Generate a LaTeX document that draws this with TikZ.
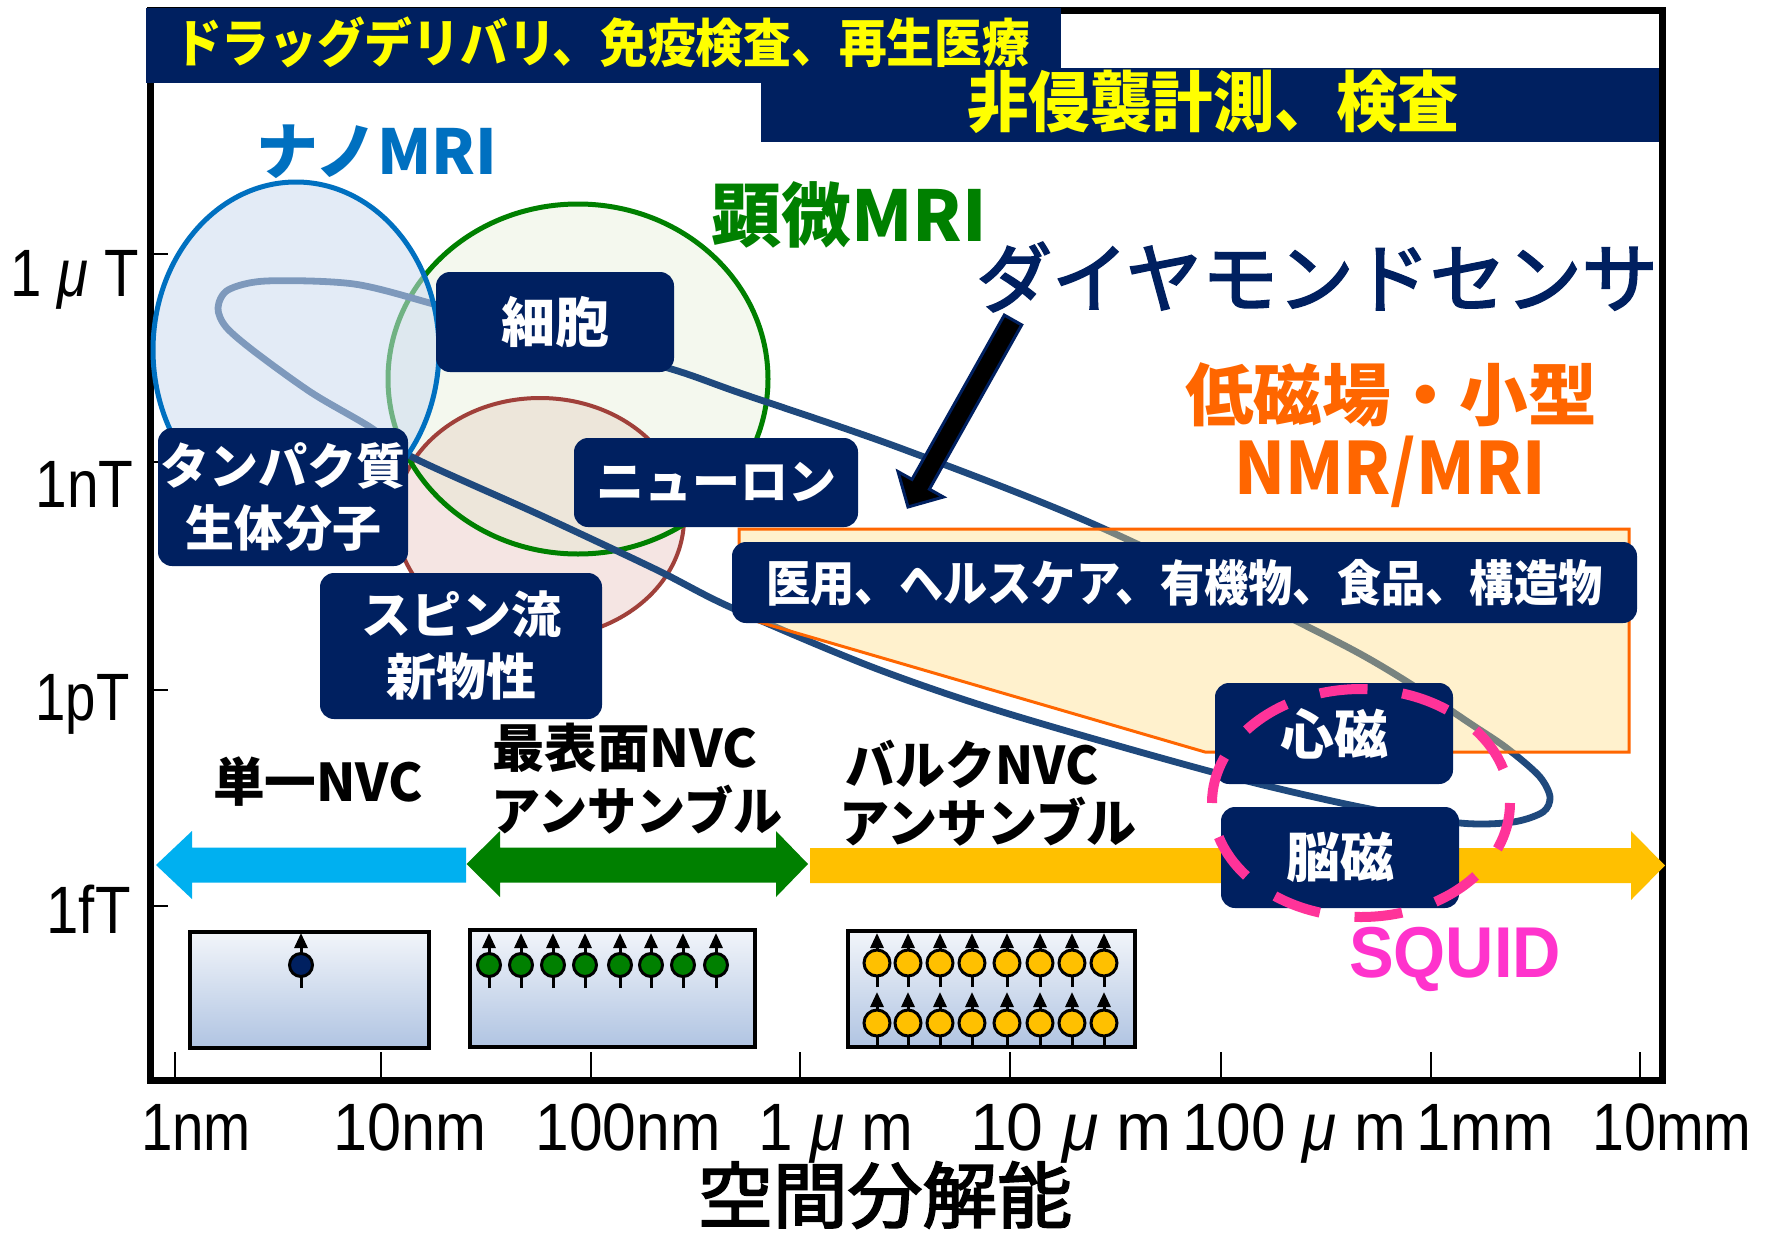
\documentclass[tikz,border=0pt]{standalone}
\usepackage{fontspec}
\usepackage{graphicx}
\setmainfont{Liberation Sans}
\newfontfamily\jp{Noto Sans CJK JP}
\newfontfamily\jpm{Noto Sans CJK JP}[FakeBold=2.6]
\usetikzlibrary{arrows.meta}
\definecolor{navy}{RGB}{0,32,96}
\definecolor{ytext}{RGB}{255,255,0}
\definecolor{nanoblue}{RGB}{0,112,192}
\definecolor{mgreen}{RGB}{0,128,0}
\definecolor{orng}{RGB}{255,102,0}
\definecolor{sqpink}{RGB}{255,51,204}
\definecolor{sqdash}{RGB}{255,51,153}
\definecolor{cyanar}{RGB}{0,176,240}
\definecolor{yelar}{RGB}{255,192,0}
\definecolor{loopc}{RGB}{31,73,125}
\definecolor{bluefill}{RGB}{205,220,240}
\definecolor{greenfill}{RGB}{220,235,200}
\definecolor{redfill}{RGB}{230,190,185}
\definecolor{redline}{RGB}{160,64,58}
\definecolor{orfill}{RGB}{255,220,130}
\definecolor{boxtop}{RGB}{242,245,250}
\definecolor{boxbot}{RGB}{176,196,226}
\newcommand{\jb}[2]{\jp\bfseries\fontsize{#1}{#2}\selectfont}
\newcommand{\jr}[2]{\jpm\fontsize{#1}{#2}\selectfont}
\newcommand{\lsz}[1]{\fontsize{#1}{#1}\selectfont}
\newcommand{\fitw}[2]{\resizebox{#1}{\height}{#2}}
\begin{document}
\begin{tikzpicture}[x=0.5pt,y=-0.5pt,
  nbox/.style={fill=navy, rounded corners=7pt, inner sep=0pt, text=white, align=center},
  lbl/.style={inner sep=0pt, align=center},
  ticks/.style={line width=1pt},
  spinarrow/.style={line width=1.5pt, -{Triangle[width=6.5pt,length=7.5pt]}},
  spin/.style={draw=black, line width=1.5pt},
  nvbox/.style={draw=black, line width=2pt, top color=boxtop, bottom color=boxbot},
]
\useasboundingbox (0,0) rectangle (1773,1232);
\fill[white] (0,0) rectangle (1773,1232);

% banners
\fill[navy] (761,68) rectangle (1663,142);
% frame
\draw[line width=3.5pt] (150,10) rectangle (1662,1080);
\fill[navy] (146,8) rectangle (1061,83);
\node[lbl, text=ytext, font=\jb{26pt}{30pt}] (ban1) at (602,42) {\fitw{428pt}{ドラッグデリバリ、免疫検査、再生医療}};
\node[lbl, text=ytext, font=\jb{33pt}{38pt}] (ban2) at (1213,102) {\fitw{246pt}{非侵襲計測、検査}};

% axis ticks
\foreach \yy in {254,462,690,906} \draw[ticks] (150,\yy) -- (168,\yy);
\foreach \xx in {175,381,591,800,1010,1221,1431,1640} \draw[ticks] (\xx,1052) -- (\xx,1080);

% y labels
\node[lbl, anchor=base east, font=\lsz{33.5pt}] (y1) at (139,296) {\fitw{64pt}{1 \textit{μ} T}};
\node[lbl, anchor=base east, font=\lsz{33.5pt}] (y2) at (134,507) {\fitw{49pt}{1nT}};
\node[lbl, anchor=base east, font=\lsz{33.5pt}] (y3) at (130,720) {\fitw{47pt}{1pT}};
\node[lbl, anchor=base east, font=\lsz{33.5pt}] (y4) at (131,933) {\fitw{42pt}{1fT}};

% x labels
\node[lbl, anchor=base, font=\lsz{33.5pt}] (x1) at (196,1150) {\fitw{55pt}{1nm}};
\node[lbl, anchor=base, font=\lsz{33.5pt}] (x2) at (410,1150) {\fitw{76.5pt}{10nm}};
\node[lbl, anchor=base, font=\lsz{33.5pt}] (x3) at (628,1150) {\fitw{92.5pt}{100nm}};
\node[lbl, anchor=base, font=\lsz{33.5pt}] (x4) at (836,1150) {\fitw{77.5pt}{1 \textit{μ} m}};
\node[lbl, anchor=base, font=\lsz{33.5pt}] (x5) at (1071,1150) {\fitw{101pt}{10 \textit{μ} m}};
\node[lbl, anchor=base, font=\lsz{33.5pt}] (x6) at (1294,1150) {\fitw{112pt}{100 \textit{μ} m}};
\node[lbl, anchor=base, font=\lsz{33.5pt}] (x7) at (1485,1150) {\fitw{68.5pt}{1mm}};
\node[lbl, anchor=base, font=\lsz{33.5pt}] (x8) at (1672,1150) {\fitw{79.5pt}{10mm}};
\node[lbl, font=\jr{36pt}{40pt}] (xaxis) at (885,1195) {\fitw{187pt}{空間分解能}};

% circles
\fill[redfill, fill opacity=0.4] (540,518) ellipse [x radius=144, y radius=120];
\fill[greenfill, fill opacity=0.3] (578,379) ellipse [x radius=190, y radius=175];
\draw[redline, line width=2pt] (540,518) ellipse [x radius=144, y radius=120];
\draw[mgreen, line width=2.5pt] (578,379) ellipse [x radius=190, y radius=175];

% sensor loop
\draw[loopc, line width=3.4pt] plot[smooth cycle, tension=0.5] coordinates {
 (370,427) (412,457) (540,515) (657,570) (730,607) (872,667) (1006,713) (1216,773) (1360,807) (1460,823)
 (1513,822) (1543,812) (1550,797) (1540,777) (1513,753) (1480,730) (1353,650) (1100,527)
 (900,448) (740,393) (668,368) (540,334) (437,305) (354,284) (266,281) (228,290) (218,308)
 (226,327) (255,352) (312,393)};

% nano MRI ellipse
\fill[bluefill, fill opacity=0.55] (296,350) ellipse [x radius=143, y radius=168];
\draw[nanoblue, line width=2.5pt] (296,350) ellipse [x radius=143, y radius=168];

% orange region
\filldraw[fill=orfill, fill opacity=0.4, draw=orng, line width=1.5pt]
  (739,529) -- (1629,529) -- (1629,752) -- (1205,752) -- (752,620) -- (739,614) -- cycle;

% pointer arrow
\filldraw[fill=black, draw=navy, line width=1.5pt, line join=miter]
  (1021.7,324.9) -- (929.4,489.2) -- (943.4,497.0) -- (908,507) -- (898.0,471.6) -- (912.0,479.4) -- (1004.3,315.1) -- cycle;

% range arrows
\fill[cyanar] (156,865) -- (192,831) -- (192,847.5) -- (466,847.5) -- (466,882.5) -- (192,882.5) -- (192,899) -- cycle;
\fill[mgreen] (466.5,864) -- (500,831) -- (500,847.5) -- (776,847.5) -- (776,831) -- (808,864) -- (776,897) -- (776,882.5) -- (500,882.5) -- (500,897) -- cycle;
\fill[yelar] (810,848) -- (1631,848) -- (1631,831) -- (1665,865.5) -- (1631,900) -- (1631,883) -- (810,883) -- cycle;

% NV boxes
\draw[nvbox] (190,932) rectangle (429,1048);
\draw[nvbox] (470,930) rectangle (755,1047);
\draw[nvbox] (848,931) rectangle (1135,1047);
\draw[spinarrow] (301,988) -- (301,933);
\filldraw[spin, fill=navy] (301,965) circle[radius=5.75pt];
\foreach \x in {489,521,553,585,620,651,683,716} {
  \draw[spinarrow] (\x,988) -- (\x,933);
  \filldraw[spin, fill=mgreen] (\x,965) circle[radius=5.75pt];
}
\foreach \x in {877,908,940,972,1007,1040,1072,1104} {
  \draw[spinarrow] (\x,987) -- (\x,933);
  \filldraw[spin, fill=yelar] (\x,963) circle[radius=6.5pt];
  \draw[spinarrow] (\x,1046) -- (\x,992);
  \filldraw[spin, fill=yelar] (\x,1023) circle[radius=6.5pt];
}

% navy boxes
\node[nbox, minimum width=119pt, minimum height=50pt, font=\jb{27pt}{32pt}] (cell) at (555,322) {細胞};
\node[nbox, minimum width=125pt, minimum height=69pt, font=\jb{24.5pt}{31pt}] (prot) at (283,497) {タンパク質\\生体分子};
\node[nbox, minimum width=142pt, minimum height=44.5pt, font=\jb{24pt}{30pt}] (neur) at (716,482.5) {ニューロン};
\node[nbox, minimum width=141pt, minimum height=73pt, font=\jb{25pt}{31pt}] (spin) at (461,646) {スピン流\\新物性};
\node[nbox, minimum width=452.5pt, minimum height=40.5pt, font=\jb{24.5pt}{30pt}] (med) at (1184.5,582.5) {\fitw{418pt}{医用、ヘルスケア、有機物、食品、構造物}};
\node[nbox, minimum width=119pt, minimum height=50.5pt, font=\jb{27pt}{32pt}] (heart) at (1334,733.5) {心磁};
\node[nbox, minimum width=119pt, minimum height=50.5pt, font=\jb{27pt}{32pt}] (brain) at (1340,857.5) {脳磁};

% SQUID range
\draw[sqdash, line width=5pt, dash pattern=on 24pt off 17.5pt] (1361,803) ellipse [x radius=149, y radius=114];
\node[lbl, anchor=base, text=sqpink, font=\lsz{36pt}\bfseries] (squid) at (1455,977) {\fitw{106pt}{SQUID}};

% titles
\node[lbl, text=nanoblue, font=\jb{31pt}{36pt}] (nano) at (377,152) {ナノMRI};
\node[lbl, text=mgreen, font=\jb{35pt}{40pt}] (micro) at (849,215) {顕微MRI};
\node[lbl, text=navy, font=\jr{38pt}{42pt}] (dia) at (1317,277) {ダイヤモンドセンサ};
\node[lbl, text=orng, font=\jb{34pt}{40pt}] (low1) at (1391,395) {\fitw{206pt}{低磁場・小型}};
\node[lbl, text=orng, font=\jb{36pt}{40pt}] (low2) at (1390,472) {\fitw{156pt}{NMR/MRI}};

% NVC labels
\node[lbl, font=\jb{26pt}{30pt}] (n1) at (318,782) {\fitw{105pt}{単一NVC}};
\node[lbl, font=\jb{26pt}{30pt}] (n2a) at (625,748) {\fitw{132.5pt}{最表面NVC}};
\node[lbl, font=\jb{26pt}{30pt}] (n2b) at (637,810) {\fitw{145.5pt}{アンサンブル}};
\node[lbl, font=\jb{26pt}{30pt}] (n3a) at (972,764) {\fitw{126.5pt}{バルクNVC}};
\node[lbl, font=\jb{26pt}{30pt}] (n3b) at (988,822) {\fitw{148.5pt}{アンサンブル}};
\end{tikzpicture}
\end{document}
